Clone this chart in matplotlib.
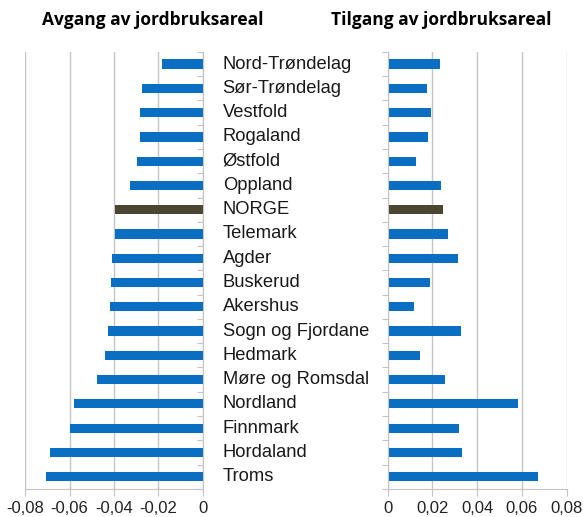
import numpy as np
import matplotlib.pyplot as plt
from matplotlib.transforms import blended_transform_factory
from matplotlib.ticker import FuncFormatter

# regions from top to bottom
regions = ["Nord-Trøndelag", "Sør-Trøndelag", "Vestfold", "Rogaland", "Østfold",
           "Oppland", "NORGE", "Telemark", "Agder", "Buskerud", "Akershus",
           "Sogn og Fjordane", "Hedmark", "Møre og Romsdal", "Nordland",
           "Finnmark", "Hordaland", "Troms"]

avgang = [-0.0183, -0.0276, -0.0282, -0.0282, -0.0296, -0.0329, -0.0396,
          -0.0396, -0.0410, -0.0413, -0.0416, -0.0429, -0.0441, -0.0477,
          -0.0581, -0.0596, -0.0690, -0.0704]

tilgang = [0.0235, 0.0177, 0.0194, 0.0180, 0.0128, 0.0240, 0.0249, 0.0271,
           0.0316, 0.0189, 0.0119, 0.0329, 0.0146, 0.0257, 0.0584, 0.0320,
           0.0334, 0.0670]

left_ticks = [-0.08, -0.06, -0.04, -0.02, 0]
right_ticks = [0, 0.02, 0.04, 0.06, 0.08]

BLUE = "#0a6fc2"
DARK = "#4b4631"
GRID = "#c4c4c4"

plt.rcParams['font.family'] = ['Liberation Sans', 'DejaVu Sans']

fig = plt.figure(figsize=(5.83, 5.17), dpi=100)
ax_l = fig.add_axes([0.043, 0.0545, 0.305, 0.845])
ax_r = fig.add_axes([0.665, 0.0545, 0.307, 0.845])

y = np.arange(len(regions))
colors = [DARK if r == "NORGE" else BLUE for r in regions]


def comma_fmt(v, pos):
    if abs(v) < 1e-9:
        return "0"
    return f"{v:.2f}".replace(".", ",")


def style(ax, ticks, side):
    ax.set_ylim(len(regions) - 0.5, -0.5)
    ax.set_xlim(ticks[0], ticks[-1])
    ax.set_xticks(ticks)
    ax.xaxis.set_major_formatter(FuncFormatter(comma_fmt))
    ax.grid(axis='x', color=GRID, lw=1)
    ax.set_axisbelow(True)
    for s in ax.spines.values():
        s.set_visible(False)
    ax.spines['bottom'].set_visible(True)
    ax.spines['bottom'].set_color(GRID)
    ax.spines[side].set_visible(True)
    ax.spines[side].set_color(GRID)
    ax.set_yticks(np.arange(len(regions) + 1) - 0.5)
    ax.set_yticklabels([])
    ax.tick_params(axis='x', colors=GRID, length=5, labelcolor='#222222',
                   labelsize=12, pad=4)
    if side == 'right':
        ax.yaxis.tick_right()
        ax.tick_params(axis='y', direction='in', length=4, colors=GRID)
    else:
        ax.tick_params(axis='y', direction='out', length=4, colors=GRID)


ax_l.barh(y, avgang, height=0.38, color=colors)
style(ax_l, left_ticks, 'right')

ax_r.barh(y, tilgang, height=0.38, color=colors)
style(ax_r, right_ticks, 'left')

# region names between the panels
trans = blended_transform_factory(fig.transFigure, ax_l.transData)
for yi, name in zip(y, regions):
    ax_l.text(0.382, yi, name, transform=trans, ha='left', va='center',
              fontsize=13.2, color='#1a1a1a', clip_on=False)

fig.text(0.262, 0.962, "Avgang av jordbruksareal", ha='center', va='center',
         fontsize=12.5, fontweight='bold', family=['Open Sans', 'DejaVu Sans'])
fig.text(0.757, 0.962, "Tilgang av jordbruksareal", ha='center', va='center',
         fontsize=12.5, fontweight='bold', family=['Open Sans', 'DejaVu Sans'])

fig.savefig("out.png", dpi=100)
